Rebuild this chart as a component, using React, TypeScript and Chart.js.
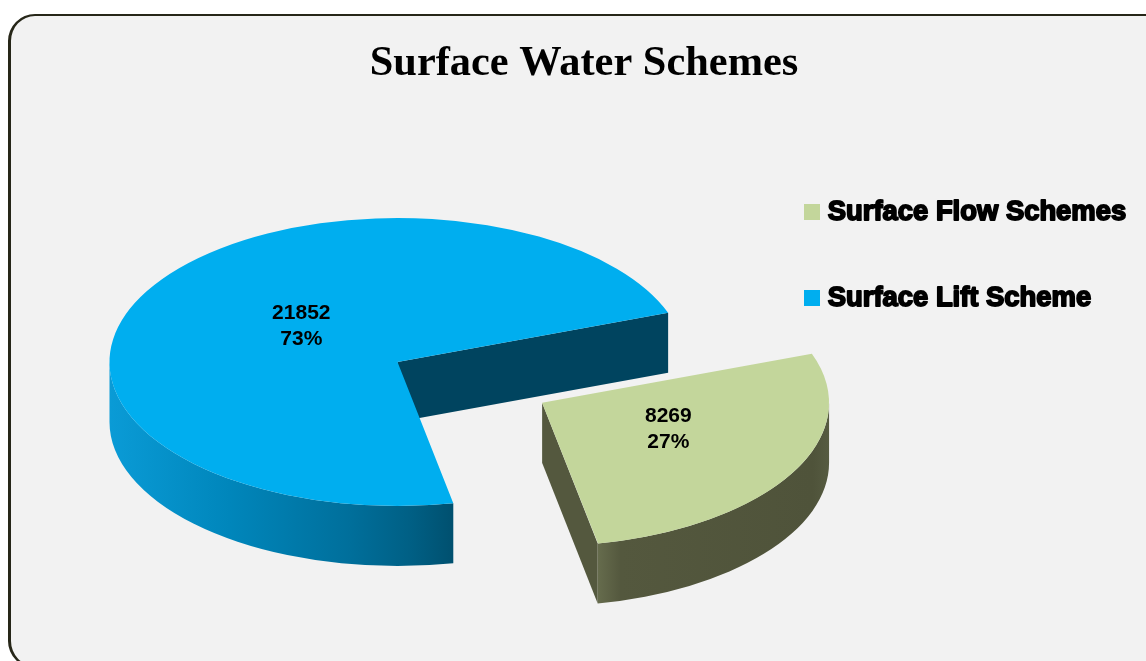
import React, { useEffect, useRef } from "react";
import { Chart, registerables } from "chart.js";

Chart.register(...registerables);

const categories = ["Surface Flow Schemes", "Surface Lift Scheme"];
const schemeCounts = [8269, 21852];
const percentLabels = ["27%", "73%"];
const sliceColors = ["#c3d69b", "#00aeef"];
const titleText = "Surface Water Schemes";

const SQUASH = 0.5;
const DEPTH = 60;
const RADIUS = 288;
const OFFSETS = [664, 0];
// label centre relative to the slice apex, as fractions of the radius
const LABEL_ANCHORS = [
  [0.44, 0.092],
  [-0.334, -0.125],
];
const LEGEND_FONT = 27.4;
const LEGEND_PAD = 58.6;
const SWATCH_LINE = 11.8;
const SWATCH_CORE = 4.2;

function geometry(el: any, offset: number) {
  const mid = (el.startAngle + el.endAngle) / 2;
  const o = offset / 4;
  const circ = el.endAngle - el.startAngle;
  const fix = 1 - Math.sin(Math.min(Math.PI, circ));
  const r = el.outerRadius + o * fix;
  return {
    cx: el.x + Math.cos(mid) * o,
    cy: el.y + Math.sin(mid) * o * SQUASH,
    r,
  };
}

const pinLayout = {
  id: "pinLayout",
  afterLayout(chart: any) {
    const t = chart.titleBlock;
    if (t) {
      t.left = 11;
      t.right = chart.width + 11;
      t.top = 38.6;
      t.bottom = 89.5;
    }
    const l = chart.legend;
    if (l) {
      l.left = 804 + SWATCH_LINE / 2 - LEGEND_PAD;
      l.top = 198.3 - LEGEND_PAD;
    }
    const a = chart.chartArea;
    a.left = 0;
    a.right = 795;
    a.top = 63;
    a.bottom = 661;
    a.width = 795;
    a.height = 598;
  },
  afterDatasetsUpdate(chart: any) {
    // the offset slice gains a little radius from the arc's draw routine
    chart.getDatasetMeta(0).data[0].outerRadius -= 3;
  },
};

const pie3d = {
  id: "pie3d",
  beforeDatasetsDraw(chart: any) {
    const ctx = chart.ctx;
    const arcs = chart.getDatasetMeta(0).data;
    const green = geometry(arcs[0], OFFSETS[0]);
    const blue = geometry(arcs[1], OFFSETS[1]);
    const gE = arcs[0].endAngle;
    const bS = arcs[1].startAngle;
    const bE = arcs[1].endAngle;

    const pt = (g: any, a: number) => [
      g.cx + Math.cos(a) * g.r,
      g.cy + Math.sin(a) * g.r * SQUASH,
    ];

    ctx.save();
    // blue cut face
    const be = pt(blue, bE);
    ctx.fillStyle = "#00445f";
    ctx.beginPath();
    ctx.moveTo(blue.cx, blue.cy);
    ctx.lineTo(be[0], be[1]);
    ctx.lineTo(be[0], be[1] + DEPTH);
    ctx.lineTo(blue.cx, blue.cy + DEPTH);
    ctx.closePath();
    ctx.fill();

    // blue rim
    const bs = pt(blue, bS);
    let grad = ctx.createLinearGradient(blue.cx - blue.r, 0, bs[0], 0);
    grad.addColorStop(0, "#0a9bd6");
    grad.addColorStop(0.35, "#0086bb");
    grad.addColorStop(0.7, "#006f9b");
    grad.addColorStop(0.88, "#005f84");
    grad.addColorStop(1, "#00506f");
    ctx.fillStyle = grad;
    ctx.beginPath();
    ctx.ellipse(blue.cx, blue.cy, blue.r, blue.r * SQUASH, 0, bS, Math.PI);
    ctx.ellipse(blue.cx, blue.cy + DEPTH, blue.r, blue.r * SQUASH, 0, Math.PI, bS, true);
    ctx.closePath();
    ctx.fill();

    // green cut face
    const ge = pt(green, gE);
    ctx.fillStyle = "#54583e";
    ctx.beginPath();
    ctx.moveTo(green.cx, green.cy);
    ctx.lineTo(ge[0], ge[1]);
    ctx.lineTo(ge[0], ge[1] + DEPTH);
    ctx.lineTo(green.cx, green.cy + DEPTH);
    ctx.closePath();
    ctx.fill();

    // green rim
    grad = ctx.createLinearGradient(ge[0], 0, green.cx + green.r, 0);
    grad.addColorStop(0, "#666c4d");
    grad.addColorStop(0.1, "#54583e");
    grad.addColorStop(0.93, "#4f533a");
    grad.addColorStop(1, "#565b41");
    ctx.fillStyle = grad;
    ctx.beginPath();
    ctx.ellipse(green.cx, green.cy, green.r, green.r * SQUASH, 0, 0, gE);
    ctx.ellipse(green.cx, green.cy + DEPTH, green.r, green.r * SQUASH, 0, gE, 0, true);
    ctx.closePath();
    ctx.fill();
    ctx.restore();

    // flatten the library's own arcs into ellipses
    const cy = arcs[1].y;
    ctx.save();
    ctx.translate(0, cy);
    ctx.scale(1, SQUASH);
    ctx.translate(0, -cy);
  },
  afterDatasetsDraw(chart: any) {
    const ctx = chart.ctx;
    ctx.restore();
    const arcs = chart.getDatasetMeta(0).data;
    ctx.save();
    ctx.font = "bold 21px 'Liberation Sans'";
    ctx.fillStyle = "#000";
    ctx.textAlign = "center";
    ctx.textBaseline = "middle";
    arcs.forEach((el: any, i: number) => {
      const g = geometry(el, OFFSETS[i]);
      const x = g.cx + LABEL_ANCHORS[i][0] * g.r;
      const y = g.cy + LABEL_ANCHORS[i][1] * g.r;
      ctx.fillText(String(schemeCounts[i]), x, y - 13);
      ctx.fillText(percentLabels[i], x, y + 13);
    });
    ctx.restore();
  },
  afterDraw(chart: any) {
    // the heavy, outlined legend lettering
    const ctx = chart.ctx;
    const l = chart.legend;
    if (!l || !l.legendItems) return;
    ctx.save();
    ctx.font = `bold ${LEGEND_FONT}px 'Liberation Sans'`;
    ctx.strokeStyle = "#000";
    ctx.lineWidth = 1.8;
    ctx.lineJoin = "round";
    ctx.textAlign = "left";
    ctx.textBaseline = "middle";
    l.legendItems.forEach((item: any, i: number) => {
      ctx.strokeText(
        item.text,
        l.left + LEGEND_PAD + SWATCH_CORE + LEGEND_FONT / 2,
        l.top + LEGEND_PAD + i * (LEGEND_FONT + LEGEND_PAD) + LEGEND_FONT / 2
      );
    });
    ctx.restore();
  },
};

export default function App() {
  const ref = useRef<HTMLCanvasElement>(null);
  useEffect(() => {
    const chart = new Chart(ref.current as HTMLCanvasElement, {
      type: "pie",
      data: {
        labels: categories,
        datasets: [
          {
            data: schemeCounts,
            backgroundColor: sliceColors,
            borderWidth: 0,
            offset: OFFSETS,
            clip: false,
          } as any,
        ],
      },
      options: {
        animation: false,
        responsive: false,
        rotation: 70,
        radius: RADIUS,
        cutout: "0%",
        events: [],
        plugins: {
          tooltip: { enabled: false },
          title: {
            display: true,
            text: titleText,
            color: "#000",
            padding: 0,
            font: { family: "'Liberation Serif'", size: 42.4, weight: "bold", lineHeight: 1.2 },
          },
          legend: {
            display: true,
            position: "right",
            align: "start",
            labels: {
              color: "#000",
              boxWidth: SWATCH_CORE,
              boxHeight: SWATCH_CORE,
              padding: LEGEND_PAD,
              font: { family: "'Liberation Sans'", size: LEGEND_FONT, weight: "bold" },
              generateLabels(chart: any) {
                return Chart.overrides.pie.plugins.legend.labels
                  .generateLabels(chart)
                  .map((item: any, i: number) => ({
                    ...item,
                    fillStyle: sliceColors[i],
                    strokeStyle: sliceColors[i],
                    lineWidth: SWATCH_LINE,
                    lineJoin: "miter",
                  }));
              },
            },
          },
        },
      } as any,
      plugins: [pinLayout, pie3d],
    });
    return () => chart.destroy();
  }, []);

  return (
    <div
      style={{
        position: "fixed",
        left: 0,
        top: 0,
        width: 1146,
        height: 661,
        overflow: "hidden",
        background: "#fff",
      }}
    >
      <div
        style={{
          position: "absolute",
          left: 8,
          top: 14,
          width: 1220,
          height: 654,
          boxSizing: "border-box",
          background: "#f2f2f2",
          borderStyle: "solid",
          borderColor: "#262618",
          borderWidth: "2.5px 3px",
          borderRadius: 27,
        }}
      />
      <canvas
        ref={ref}
        width={1146}
        height={661}
        style={{ position: "absolute", left: 0, top: 0, display: "block" }}
      />
    </div>
  );
}
